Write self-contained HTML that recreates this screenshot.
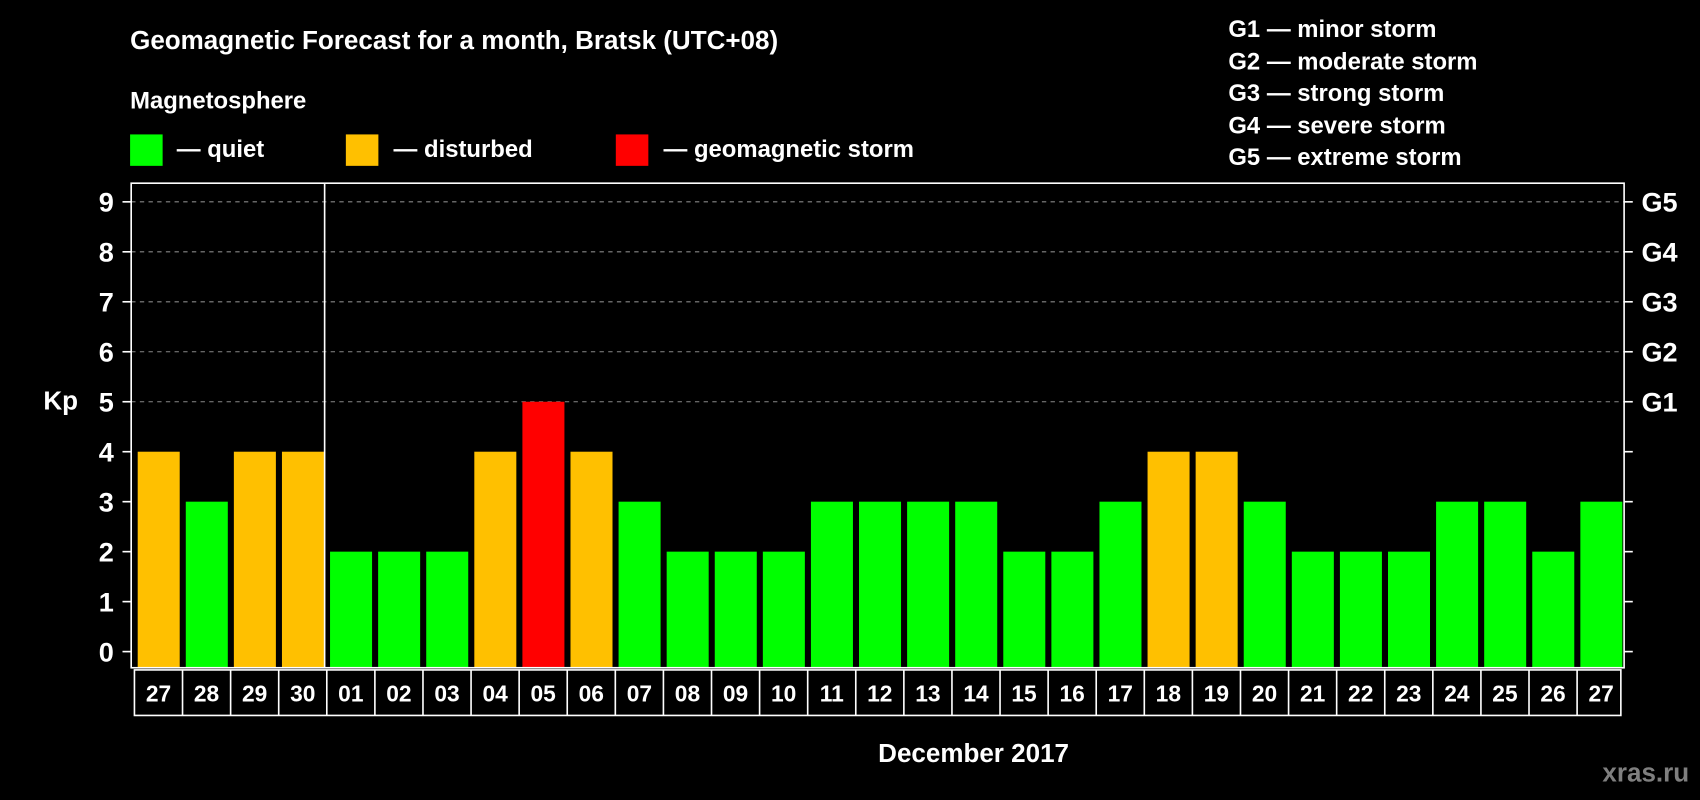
<!DOCTYPE html>
<html><head><meta charset="utf-8"><style>
html,body{margin:0;padding:0;background:#000;}
svg{display:block;font-family:"Liberation Sans",Arial,sans-serif;font-weight:bold;}
</style></head><body>
<svg id="chart" width="1700" height="800" viewBox="0 0 1568 738" preserveAspectRatio="none" xmlns="http://www.w3.org/2000/svg">
<rect x="0" y="0" width="1568" height="738" fill="#000"/>
<text x="120" y="45" fill="#fff" font-size="24">Geomagnetic Forecast for a month, Bratsk (UTC+08)</text>
<text x="120" y="100" fill="#fff" font-size="22">Magnetosphere</text>
<g>
<rect x="120" y="124" width="30" height="29" fill="#00ff00"/>
<text x="163" y="145" fill="#fff" font-size="22">— quiet</text>
<rect x="319" y="124" width="30" height="29" fill="#ffc000"/>
<text x="363" y="145" fill="#fff" font-size="22">— disturbed</text>
<rect x="568" y="124" width="30" height="29" fill="#ff0000"/>
<text x="612" y="145" fill="#fff" font-size="22">— geomagnetic storm</text>
</g>
<g fill="#fff" font-size="22">
<text x="1133" y="34">G1 — minor storm</text>
<text x="1133" y="64">G2 — moderate storm</text>
<text x="1133" y="93">G3 — strong storm</text>
<text x="1133" y="123">G4 — severe storm</text>
<text x="1133" y="152">G5 — extreme storm</text>
</g>
<text x="40" y="378" fill="#fff" font-size="24">Kp</text>
<text x="898" y="703" fill="#fff" font-size="24" text-anchor="middle">December 2017</text>
<text x="1558" y="721" fill="#7f7f7f" font-size="24" text-anchor="end">xras.ru</text>
<g id="grid"></g>
<g id="bars"></g>
<g id="axes"></g>
<g id="dates"></g>
</svg>
<script>
const days = ["27","28","29","30","01","02","03","04","05","06","07","08","09","10","11","12","13","14","15","16","17","18","19","20","21","22","23","24","25","26","27"];
const kpValues = [4,3,4,4,2,2,2,4,5,4,3,2,2,2,3,3,3,3,2,2,3,4,4,3,2,2,2,3,3,2,3];
const yTicks = [0,1,2,3,4,5,6,7,8,9];
const gLabels = ["","","","","","G1","G2","G3","G4","G5"];
const NS="http://www.w3.org/2000/svg";
const L=121, R=1498, T=169, B=616, Y0=601.1, UNIT=46.1;
const slot=(R-L-2)/days.length;
function y(v){return Y0-v*UNIT;}
function x(i){return L+2+i*slot;}
function mk(tag,attrs,parent){const e=document.createElementNS(NS,tag);for(const k in attrs)e.setAttribute(k,attrs[k]);parent.appendChild(e);return e;}
const grid=document.getElementById('grid'),bars=document.getElementById('bars'),axes=document.getElementById('axes'),dates=document.getElementById('dates');
yTicks.forEach((t,i)=>{
  if(t>=5){const g=mk('line',{x1:L,x2:R,y1:y(t),y2:y(t),stroke:'#888','stroke-width':1,'stroke-dasharray':'4,4'},grid);
  
  }
  const lt=mk('line',{x1:L-8,x2:L,y1:y(t),y2:y(t),stroke:'#fff','stroke-width':1.5},axes);
  
  
  const rt=mk('line',{x1:R,x2:R+8,y1:y(t),y2:y(t),stroke:'#fff','stroke-width':1.5},axes);
  
  
  const lb=mk('text',{x:105,y:y(t)+9,fill:'#fff','font-size':25,'text-anchor':'end'},axes);
  lb.textContent=t;
  
  
  if(gLabels[i]){const gl=mk('text',{x:1514,y:y(t)+9,fill:'#fff','font-size':25},axes);
  gl.textContent=gLabels[i];
  
  }
});
kpValues.forEach((v,i)=>{
  const c=v>=5?'#ff0000':(v>=4?'#ffc000':'#00ff00');
  const b=mk('rect',{x:x(i)+4,y:y(v),width:slot-5.6,height:B-y(v),fill:c},bars);
  
  
});
const frame=mk('rect',{x:L,y:T,width:R-L,height:B-T,fill:'none',stroke:'#fff','stroke-width':1.5},axes);


const sep=mk('line',{x1:x(4)-1,x2:x(4)-1,y1:T,y2:B,stroke:'#fff','stroke-width':1.5},axes);


const dbox=mk('rect',{x:L+3,y:618,width:R-L-6,height:42,fill:'none',stroke:'#fff','stroke-width':1.5},dates);


days.forEach((d,i)=>{
  if(i>0){const s=mk('line',{x1:x(i)+1,x2:x(i)+1,y1:618,y2:660,stroke:'#fff','stroke-width':1.5},dates);
  
  }
  const t=mk('text',{x:x(i)+slot/2+1,y:647,fill:'#fff','font-size':21,'text-anchor':'middle'},dates);
  t.textContent=d;
  
  
});
</script>
</body></html>
